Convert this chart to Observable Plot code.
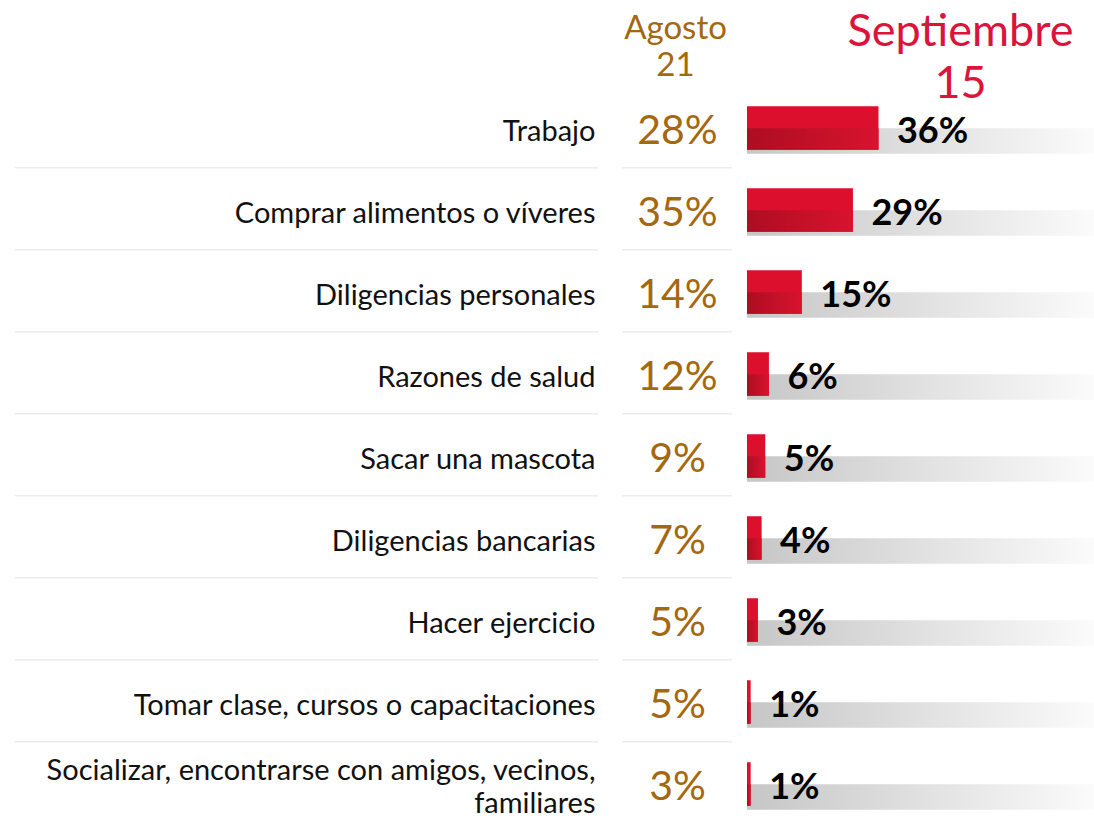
<!DOCTYPE html>
<html>
<head>
<meta charset="utf-8">
<script src="https://cdn.jsdelivr.net/npm/d3@7"></script>
<script src="https://cdn.jsdelivr.net/npm/@observablehq/plot@0.6"></script>
<style>
  html, body { margin: 0; padding: 0; background: #fff; }
  #chart { width: 1094px; height: 821px; }
</style>
</head>
<body>
<div id="chart"></div>
<script>
const categories = [
  "Trabajo",
  "Comprar alimentos o víveres",
  "Diligencias personales",
  "Razones de salud",
  "Sacar una mascota",
  "Diligencias bancarias",
  "Hacer ejercicio",
  "Tomar clase, cursos o capacitaciones",
  "Socializar, encontrarse con amigos, vecinos,\nfamiliares"
];
const agosto = [28, 35, 14, 12, 9, 7, 5, 5, 3];
const septiembre = [36, 29, 15, 6, 5, 4, 3, 1, 1];
const headerAgosto = ["Agosto", "21"];
const headerSept = ["Septiembre", "15"];

const rows = categories.map((c, i) => ({cat: c, ago: agosto[i], sep: septiembre[i], idx: i}));

const RED = "#dc0f2d";
const BROWN = "#a4680e";
const FONT = "Lato, 'Open Sans', sans-serif";
const BAND = 82.5;

const plot = Plot.plot({
  width: 1094,
  height: 821,
  margin: 0,
  style: {fontFamily: FONT, background: "#fff"},
  x: {domain: [0, 95], range: [747, 1094], axis: null},
  y: {type: "band", domain: categories, range: [85, 85 + BAND * categories.length], padding: 0, axis: null},
  marks: [
    // separators between rows (label column and Agosto column)
    Plot.cell(rows.filter(d => d.idx > 0), {y: "cat", fill: "#dcdcdc", dy: -1.5, insetTop: 0, insetBottom: BAND - 1.3, insetLeft: 15, insetRight: 496}),
    Plot.cell(rows.filter(d => d.idx > 0), {y: "cat", fill: "#dcdcdc", dy: -1.5, insetTop: 0, insetBottom: BAND - 1.3, insetLeft: 622, insetRight: 362}),
    // gray track (lower half)
    Plot.barX(rows, {x1: 0, x2: 95, y: "cat", fill: "url(#trackGrad)", insetTop: BAND / 2, insetBottom: BAND / 2 - 26}),
    // bars: bright upper
    Plot.barX(rows, {x1: 0, x2: "sep", y: "cat", fill: RED, insetTop: BAND / 2 - 22, insetBottom: BAND / 2 - 22}),
    // bars: darker lower half
    Plot.barX(rows, {x1: 0, x2: "sep", y: "cat", fill: "url(#barGrad)", insetTop: BAND / 2, insetBottom: BAND / 2 - 22}),
    // value labels
    Plot.text(rows, {x: "sep", y: "cat", text: d => d.sep + "%", textAnchor: "start", lineAnchor: "middle", dx: 18, dy: 3, fontSize: 36, fontWeight: 700, fill: "#000"}),
    // Agosto values
    Plot.text(rows, {frameAnchor: "left", y: "cat", text: d => d.ago + "%", textAnchor: "middle", lineAnchor: "middle", dx: 677, dy: 2, fontSize: 41, fill: BROWN}),
    // category labels
    Plot.text(rows, {frameAnchor: "left", y: "cat", text: "cat", textAnchor: "end", lineAnchor: "middle", dx: 595, dy: 1.5, fontSize: 29, lineHeight: 1.14, fill: "#111"}),
    // headers
    Plot.text([headerAgosto[0]], {frameAnchor: "top-left", lineAnchor: "middle", dx: 675, dy: 28, text: d => d, textAnchor: "middle", fontSize: 33, fill: BROWN}),
    Plot.text([headerAgosto[1]], {frameAnchor: "top-left", lineAnchor: "middle", dx: 675, dy: 65, text: d => d, textAnchor: "middle", fontSize: 33, fill: BROWN}),
    Plot.text([headerSept[0]], {frameAnchor: "top-left", lineAnchor: "middle", dx: 960, dy: 31, text: d => d, textAnchor: "middle", fontSize: 45, fill: "#dc143c"}),
    Plot.text([headerSept[1]], {frameAnchor: "top-left", lineAnchor: "middle", dx: 960, dy: 83, text: d => d, textAnchor: "middle", fontSize: 45, fill: "#dc143c"})
  ]
});

const svg = d3.select(plot);
const defs = svg.insert("defs", ":first-child");
const tg = defs.append("linearGradient").attr("id", "trackGrad").attr("x1", "0").attr("x2", "1").attr("y1", "0").attr("y2", "0");
tg.append("stop").attr("offset", "0").attr("stop-color", "#c6c6c6");
tg.append("stop").attr("offset", "1").attr("stop-color", "#fbfbfb");
const bg = defs.append("linearGradient").attr("id", "barGrad").attr("x1", "0").attr("x2", "1").attr("y1", "0").attr("y2", "0");
bg.append("stop").attr("offset", "0").attr("stop-color", "#ad0d22");
bg.append("stop").attr("offset", "1").attr("stop-color", "#d8132e");

document.getElementById("chart").appendChild(plot);
</script>
</body>
</html>
